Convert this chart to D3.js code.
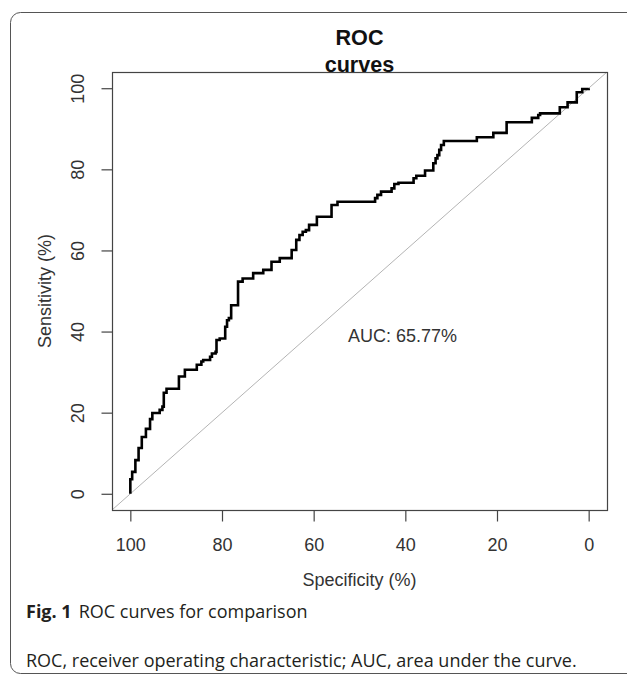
<!DOCTYPE html>
<html>
<head>
<meta charset="utf-8">
<script src="https://cdn.jsdelivr.net/npm/d3@7"></script>
<style>
  body { margin: 0; background: #fff; }
</style>
</head>
<body>
<div id="viz"></div>
<script>
// ROC points, (specificity, sensitivity) in %
var specificity = [100, 99.6, 98.9, 98.2, 97.5, 96.6, 95.7, 95.2, 93.6, 93.0, 92.7, 92.1, 89.4, 88.1, 85.5, 84.5,
                   84.1, 82.6, 82.2, 81.4, 81.2, 80.5, 79.3, 78.9, 78.5, 78.0, 76.5, 75.5, 73.2, 71.0, 69.2, 67.4,
                   64.8, 63.8, 63.1, 62.4, 61.7, 61.0, 59.3, 56.1, 54.8, 46.6, 46.1, 45.3, 43.0, 42.4, 41.5, 38.2,
                   37.6, 35.7, 33.9, 33.4, 33.0, 32.6, 32.2, 31.6, 24.4, 20.8, 17.9, 12.4, 11.0, 10.6, 6.3, 4.6,
                   2.6, 1.4, 0.0, 0.0];
var sensitivity = [0, 3.6, 5.4, 8.3, 11.3, 14.0, 16.0, 18.4, 19.9, 20.7, 21.5, 24.9, 25.9, 28.9, 30.6, 31.8,
                   32.6, 33.0, 33.8, 34.6, 35.0, 37.9, 38.3, 41.2, 42.8, 43.3, 46.5, 52.3, 53.1, 54.4, 55.2, 57.2,
                   58.1, 60.1, 62.6, 63.8, 64.6, 65.0, 66.3, 68.3, 71.2, 72.0, 72.9, 73.7, 74.5, 75.3, 76.4, 76.7,
                   77.8, 78.4, 79.7, 81.5, 82.7, 83.5, 84.8, 86.0, 87.0, 87.9, 89.0, 91.6, 92.7, 93.4, 93.8, 95.3,
                   96.5, 99.0, 99.8, 100];
var xTicks = [100, 80, 60, 40, 20, 0];
var yTicks = [0, 20, 40, 60, 80, 100];
var aucLabel = "AUC: 65.77%";
var titleLines = ["ROC", "curves"];
var captionBold = "Fig. 1",
    captionText = "ROC curves for comparison",
    footnote = "ROC, receiver operating characteristic; AUC, area under the curve.";

var width = 627,
    height = 676,
    box = {left: 112, right: 607, top: 72, bottom: 510},
    axisFont = "'Liberation Sans', Arial, sans-serif",
    capFont = "'Open Sans', 'Noto Sans', sans-serif";

var svg = d3.select("#viz").append("svg")
    .attr("width", width)
    .attr("height", height);

// outer figure frame (rounded, open on the right)
svg.append("rect")
    .attr("x", 10.5).attr("y", 12.5)
    .attr("width", 700).attr("height", 661)
    .attr("rx", 10)
    .style("fill", "none")
    .style("stroke", "#555")
    .style("stroke-width", 1);

// R style 4% padding on both axes
var x = d3.scaleLinear().domain([104, -4]).range([box.left, box.right]);
var y = d3.scaleLinear().domain([-4, 104]).range([box.bottom, box.top]);

// chance diagonal
svg.append("line")
    .attr("x1", x(104)).attr("y1", y(-4))
    .attr("x2", x(-4)).attr("y2", y(104))
    .style("stroke", "#b4b4b4")
    .style("stroke-width", 1);

var pts = specificity.map(function(s, i) { return [s, sensitivity[i]]; });

var line = d3.line()
    .x(function(d) { return x(d[0]); })
    .y(function(d) { return y(d[1]); })
    .curve(d3.curveStepBefore);

svg.append("path")
    .datum(pts)
    .attr("d", line)
    .style("fill", "none")
    .style("stroke", "#000")
    .style("stroke-width", 2.6)
    .style("stroke-linejoin", "miter");

// plot box
svg.append("rect")
    .attr("x", box.left + 0.5).attr("y", box.top + 0.5)
    .attr("width", box.right - box.left).attr("height", box.bottom - box.top)
    .style("fill", "none")
    .style("stroke", "#444")
    .style("stroke-width", 1.2);

var xAxis = svg.append("g")
    .attr("transform", "translate(0," + (box.bottom + 0.5) + ")")
    .call(d3.axisBottom(x).tickValues(xTicks).tickSize(11).tickSizeOuter(0).tickPadding(17));
var yAxis = svg.append("g")
    .attr("transform", "translate(" + (box.left + 0.5) + ",0)")
    .call(d3.axisLeft(y).tickValues(yTicks).tickSize(11).tickSizeOuter(0));

[xAxis, yAxis].forEach(function(g) {
  g.select(".domain").remove();
  g.selectAll(".tick line").style("stroke", "#444").style("stroke-width", 1.2);
  g.selectAll("text")
    .style("font-family", axisFont)
    .style("font-size", "18px")
    .style("fill", "#333");
});

yAxis.selectAll(".tick text")
    .attr("x", null).attr("dy", null)
    .attr("text-anchor", "middle")
    .attr("dominant-baseline", "central")
    .attr("transform", "translate(-35,0) rotate(-90)");

// axis titles
svg.append("text")
    .attr("x", (box.left + box.right) / 2)
    .attr("y", 586)
    .attr("text-anchor", "middle")
    .style("font-family", axisFont)
    .style("font-size", "18px")
    .style("fill", "#333")
    .text("Specificity (%)");

svg.append("text")
    .attr("transform", "translate(45," + (box.top + box.bottom) / 2 + ") rotate(-90)")
    .attr("text-anchor", "middle")
    .attr("dominant-baseline", "central")
    .style("font-family", axisFont)
    .style("font-size", "18px")
    .style("fill", "#333")
    .text("Sensitivity (%)");

// title
svg.selectAll("text.title")
    .data(titleLines)
    .enter()
    .append("text")
    .attr("class", "title")
    .attr("x", (box.left + box.right) / 2)
    .attr("y", function(d, i) { return 45 + i * 27; })
    .attr("text-anchor", "middle")
    .style("font-family", axisFont)
    .style("font-size", "21.6px")
    .style("font-weight", "bold")
    .style("fill", "#111")
    .text(function(d) { return d; });

// AUC annotation
svg.append("text")
    .attr("x", x(52.5))
    .attr("y", y(39))
    .attr("dominant-baseline", "central")
    .style("font-family", axisFont)
    .style("font-size", "18px")
    .style("fill", "#333")
    .text(aucLabel);

// caption
var cap = svg.append("text")
    .attr("x", 26)
    .attr("y", 618)
    .style("font-family", capFont)
    .style("font-size", "18px")
    .style("fill", "#231f20");
cap.append("tspan").style("font-weight", "bold").text(captionBold);
cap.append("tspan").attr("dx", 7).text(captionText);

svg.append("text")
    .attr("x", 26)
    .attr("y", 667)
    .style("font-family", capFont)
    .style("font-size", "18px")
    .style("fill", "#231f20")
    .text(footnote);
</script>
</body>
</html>
